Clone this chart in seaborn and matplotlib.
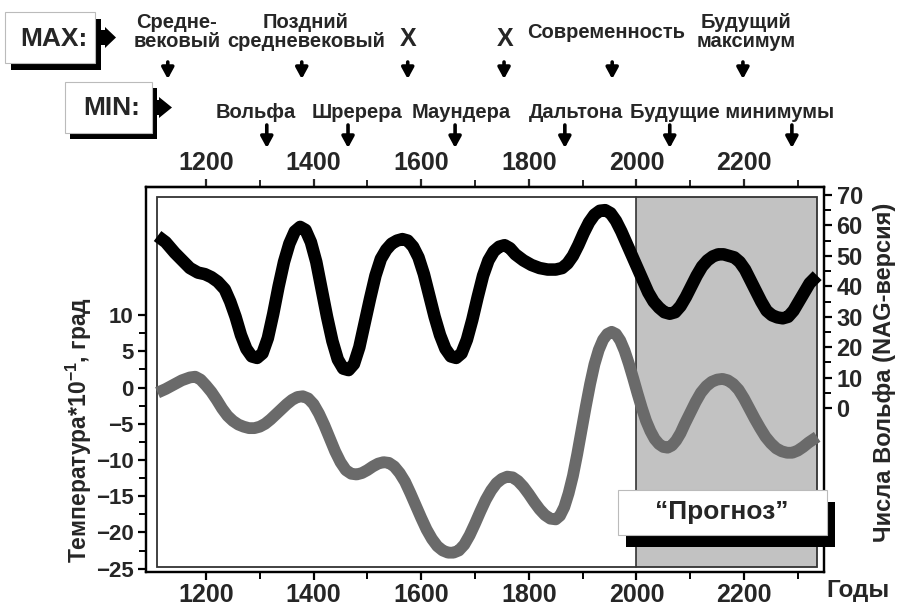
import pandas as pd
import seaborn as sns
import matplotlib.pyplot as plt
from matplotlib.patches import Rectangle, Polygon
from matplotlib.transforms import blended_transform_factory

# Wolf numbers (NAG version), right axis
wolf_years = [1110, 1125, 1142, 1156, 1170, 1185, 1198, 1210, 1222, 1235, 1245, 1255, 1265,
              1275, 1285, 1295, 1305, 1315, 1325, 1335, 1345, 1355, 1365, 1375, 1385, 1395,
              1405, 1415, 1425, 1435, 1445, 1455, 1465, 1475, 1485, 1495, 1505, 1515, 1525,
              1535, 1545, 1555, 1565, 1575, 1585, 1595, 1605, 1615, 1625, 1635, 1645, 1655,
              1665, 1675, 1685, 1695, 1705, 1715, 1725, 1735, 1745, 1755, 1765, 1775, 1790,
              1805, 1820, 1835, 1850, 1862, 1872, 1882, 1892, 1902, 1912, 1922, 1932, 1942,
              1952, 1962, 1972, 1982, 1992, 2002, 2012, 2022, 2032, 2042, 2052, 2062, 2072,
              2082, 2092, 2102, 2112, 2122, 2132, 2142, 2152, 2162, 2172, 2182, 2192, 2202,
              2212, 2222, 2232, 2242, 2252, 2262, 2272, 2282, 2292, 2302, 2312, 2322, 2336]
wolf_values = [56.5, 54.5, 51, 48.5, 46, 44.5, 44, 43, 41.5, 39, 35, 30, 24,
               19.5, 17, 16.5, 18, 23, 31, 40, 48, 54, 58, 59.5, 58.5, 54.5,
               48, 39, 30, 22, 16, 13, 12.5, 14.5, 20, 28, 36, 43.5, 49,
               52, 54, 55, 55.5, 55, 53, 49.5, 44, 37, 30, 24, 19.5, 17,
               16.5, 18, 22.5, 29, 36.5, 43.5, 48.5, 51.5, 53, 53.5, 52.5, 50.5, 48.5,
               47, 46, 45.5, 45.5, 46, 47.5, 50, 53.5, 57.5, 61, 63.5, 64.8, 65,
               64, 61.5, 58, 54, 50, 46, 42, 38, 35, 33, 31.5, 31, 31.5,
               33.5, 36.5, 40, 43.5, 46.5, 48.5, 49.8, 50.5, 50.5, 50, 49.5, 48, 45.5,
               42, 38.5, 35, 32, 30.5, 29.8, 29.5, 30, 32, 35, 38, 41, 43.5]

# Temperature * 10^-1, left axis
temp_years = [1110, 1125, 1140, 1155, 1170, 1180, 1190, 1200, 1210, 1220, 1230, 1240, 1250,
              1260, 1270, 1280, 1290, 1300, 1310, 1320, 1330, 1340, 1350, 1360, 1370, 1380,
              1390, 1400, 1410, 1420, 1430, 1440, 1450, 1460, 1470, 1480, 1490, 1500, 1510,
              1520, 1530, 1540, 1550, 1560, 1570, 1580, 1590, 1600, 1610, 1620, 1630, 1640,
              1650, 1660, 1670, 1680, 1690, 1700, 1710, 1720, 1730, 1740, 1750, 1760, 1770,
              1780, 1790, 1800, 1810, 1820, 1830, 1840, 1850, 1858, 1866, 1874, 1882, 1890,
              1898, 1906, 1914, 1922, 1930, 1938, 1946, 1954, 1962, 1970, 1978, 1986, 1994,
              2002, 2010, 2018, 2026, 2034, 2042, 2050, 2058, 2066, 2074, 2082, 2090, 2100,
              2110, 2120, 2130, 2140, 2150, 2160, 2170, 2180, 2190, 2200, 2210, 2220, 2230,
              2240, 2250, 2260, 2270, 2280, 2290, 2300, 2310, 2320, 2336]
temp_values = [-0.7, -0.2, 0.4, 1.0, 1.4, 1.5, 1.1, 0.3, -0.6, -1.7, -2.9, -3.9, -4.6,
               -5.1, -5.4, -5.6, -5.6, -5.4, -5.0, -4.4, -3.7, -3.0, -2.3, -1.7, -1.3, -1.2,
               -1.5, -2.3, -3.6, -5.2, -7.0, -8.8, -10.3, -11.4, -11.9, -12.0, -11.8, -11.4, -10.9,
               -10.5, -10.3, -10.4, -10.9, -11.8, -13.0, -14.6, -16.3, -18.0, -19.6, -20.9, -21.9, -22.5,
               -22.8, -22.8, -22.5, -21.7, -20.4, -18.8, -17.1, -15.5, -14.2, -13.2, -12.6, -12.3, -12.4,
               -12.9, -13.7, -14.7, -15.8, -16.8, -17.6, -18.1, -18.2, -17.7, -16.5, -14.6, -12.2, -9.2,
               -5.9, -2.6, 0.5, 3.2, 5.2, 6.6, 7.4, 7.7, 7.4, 6.5, 5.1, 3.3, 1.3,
               -0.8, -2.8, -4.6, -6.0, -7.1, -7.8, -8.2, -8.3, -8.0, -7.3, -6.3, -5.0, -3.5,
               -2.0, -0.7, 0.2, 0.8, 1.1, 1.2, 1.0, 0.5, -0.3, -1.5, -2.9, -4.3, -5.6,
               -6.8, -7.7, -8.4, -8.8, -9.0, -9.0, -8.7, -8.2, -7.6, -6.8]

forecast_start = 2000

# top annotations: maxima and minima
max_labels = ['Средне-\nвековый', 'Поздний\nсредневековый', 'X', 'X', 'Современность', 'Будущий\nмаксимум']
max_label_years = [1146, 1386, 1575, 1756, 1943, 2204]
max_arrow_years = [1129, 1378, 1575, 1754, 1955, 2198]
min_labels = ['Вольфа', 'Шререра', 'Маундера', 'Дальтона', 'Будущие минимумы']
min_label_years = [1293, 1481, 1674, 1888, 2178]
min_arrow_years = [1313, 1464, 1663, 1867, 2062, 2289]

x_major = [1200, 1400, 1600, 1800, 2000, 2200]
x_minor = [1300, 1500, 1700, 1900, 2100, 2300]

df_wolf = pd.DataFrame({'year': wolf_years, 'wolf': wolf_values})
df_temp = pd.DataFrame({'year': temp_years, 'temp': temp_values})

sns.set_style('ticks')
plt.rcParams['font.family'] = ['Liberation Sans', 'DejaVu Sans']
plt.rcParams['font.weight'] = 'bold'
plt.rcParams['axes.labelweight'] = 'bold'
plt.rcParams['mathtext.fontset'] = 'custom'
plt.rcParams['mathtext.rm'] = 'Liberation Sans'
plt.rcParams['mathtext.bf'] = 'Liberation Sans:bold'

W, H = 901, 607


def fp(x, y):
    # pixel position -> figure fraction
    return (x / W, 1 - y / H)


fig = plt.figure(figsize=(9.01, 6.07), dpi=100)
ax = fig.add_axes([146 / W, 1 - 571.5 / H, 678 / W, 384.5 / H])
ax.set_xlim(1088.5, 2348.7)
ax.set_ylim(-25.4, 27.7)

# forecast shading and inner frame
ax.axvspan(forecast_start, 2336, ymin=0.013, ymax=0.974, color='#c2c2c2', zorder=0, lw=0)
ax.axvline(forecast_start, ymin=0.013, ymax=0.974, color='#333333', lw=1.2, zorder=1)
ax.add_patch(Rectangle((0.0162, 0.013), 0.974, 0.961, transform=ax.transAxes,
                       fill=False, ec='#333333', lw=1.3, zorder=1))

sns.lineplot(data=df_temp, x='year', y='temp', ax=ax, color='#6a6a6a', lw=8.5,
             solid_capstyle='butt', zorder=3)

ax2 = ax.twinx()
ax2.set_ylim(-53.6, 72.6)
sns.lineplot(data=df_wolf, x='year', y='wolf', ax=ax2, color='black', lw=9,
             solid_capstyle='butt', zorder=3)

for a in (ax, ax2):
    a.set_xlabel('')
    a.set_ylabel('')
    for s in a.spines.values():
        s.set_linewidth(1.6)
        s.set_color('black')
        s.set_visible(True)

ax.set_xticks(x_major)
ax.set_xticks(x_minor, minor=True)
ax.set_yticks(range(-25, 11, 5))
ax.set_yticks([-22.5, -17.5, -12.5, -7.5, -2.5, 2.5, 7.5], minor=True)
ax2.set_yticks(range(0, 71, 10))
ax2.set_yticks(range(5, 70, 10), minor=True)

ax.tick_params(axis='x', which='major', direction='out', length=6, width=1.6,
               labelsize=18, pad=2, color='black')
ax.tick_params(axis='y', which='major', direction='out', length=6, width=1.6,
               labelsize=16, pad=3, color='black')
ax.tick_params(axis='both', which='minor', direction='out', length=5, width=1.4, color='black')
ax2.tick_params(axis='y', which='major', direction='out', length=6, width=1.6,
                labelsize=17, pad=3, color='black')
ax2.tick_params(axis='y', which='minor', direction='out', length=5, width=1.4, color='black')

top = ax.secondary_xaxis('top')
top.set_xticks(x_major)
top.set_xticks(x_minor, minor=True)
top.tick_params(which='major', direction='out', length=6, width=1.6, labelsize=18, pad=2.5)
top.tick_params(which='minor', direction='out', length=5, width=1.4)
top.spines['top'].set_linewidth(1.6)

for lab in ax.get_xticklabels() + ax.get_yticklabels() + ax2.get_yticklabels() + top.get_xticklabels():
    lab.set_fontweight('bold')

# axis titles
fig.text(*fp(858, 591), 'Годы', fontsize=17.5, fontweight='bold', ha='center', va='center')
fig.text(*fp(79, 430), 'Температура*10$^{\\mathbf{-1}}$, град', fontsize=16.5, fontweight='bold',
         rotation=90, ha='center', va='center')
fig.text(*fp(885, 372), 'Числа Вольфа (NAG-версия)', fontsize=17, fontweight='bold',
         rotation=90, ha='center', va='center')

# MAX / MIN boxes with shadows and arrows
def shadow_box(x0, y0, x1, y1, dx, dy):
    sx0, sy1 = fp(x0 + dx, y1 + dy)
    sx1, sy0 = fp(x1 + dx, y0 + dy)
    fig.patches.append(Rectangle((sx0, sy1), sx1 - sx0, sy0 - sy1, transform=fig.transFigure,
                                 fc='black', ec='none', zorder=1))
    bx0, by1 = fp(x0, y1)
    bx1, by0 = fp(x1, y0)
    fig.patches.append(Rectangle((bx0, by1), bx1 - bx0, by0 - by1, transform=fig.transFigure,
                                 fc='white', ec='#bbbbbb', lw=0.8, zorder=2))


def right_arrow(x0, xm, x1, y0, y1):
    yc = (y0 + y1) / 2
    pts = [fp(x0, y0 + 3), fp(xm, y0 + 3), fp(xm, y0), fp(x1, yc), fp(xm, y1), fp(xm, y1 - 3), fp(x0, y1 - 3)]
    fig.patches.append(Polygon(pts, closed=True, transform=fig.transFigure, fc='black', ec='none'))


shadow_box(5, 12, 95, 63, 6, 7)
right_arrow(99, 105, 116, 27, 48)
fig.text(*fp(54, 39), 'MAX:', fontsize=19, fontweight='bold', ha='center', va='center', zorder=3)

shadow_box(65, 82, 152, 133, 5, 6)
right_arrow(155, 159, 172, 97, 118)
fig.text(*fp(112, 108), 'MIN:', fontsize=19, fontweight='bold', ha='center', va='center', zorder=3)

# period labels and arrows positioned by year
trans = blended_transform_factory(ax.transData, fig.transFigure)
for lab, yr in zip(max_labels, max_label_years):
    fs = 18 if lab == 'X' else 14.5
    yc = 39 if lab == 'X' else (33 if '\n' not in lab else 32)
    ax.text(yr, fp(0, yc)[1], lab, transform=trans, fontsize=fs, fontweight='bold',
            ha='center', va='center', linespacing=1.05, clip_on=False)
for yr in max_arrow_years:
    ax.annotate('', xy=(yr, fp(0, 79)[1]), xytext=(yr, fp(0, 62)[1]), xycoords=trans,
                textcoords=trans, annotation_clip=False,
                arrowprops=dict(arrowstyle='-|>,head_length=0.55,head_width=0.3', lw=2.6,
                                color='black', shrinkA=0, shrinkB=0, mutation_scale=12))
for lab, yr in zip(min_labels, min_label_years):
    ax.text(yr, fp(0, 113)[1], lab, transform=trans, fontsize=14.5, fontweight='bold',
            ha='center', va='center', clip_on=False)
for yr in min_arrow_years:
    ax.annotate('', xy=(yr, fp(0, 148)[1]), xytext=(yr, fp(0, 125)[1]), xycoords=trans,
                textcoords=trans, annotation_clip=False,
                arrowprops=dict(arrowstyle='-|>,head_length=0.55,head_width=0.3', lw=2.6,
                                color='black', shrinkA=0, shrinkB=0, mutation_scale=12))

# "Прогноз" box
shadow_box(618, 490, 827, 535, 8, 12)
fig.text(*fp(722, 512), '“Прогноз”', fontsize=19, fontweight='bold', ha='center', va='center', zorder=3)

fig.savefig('out.png', dpi=100)
